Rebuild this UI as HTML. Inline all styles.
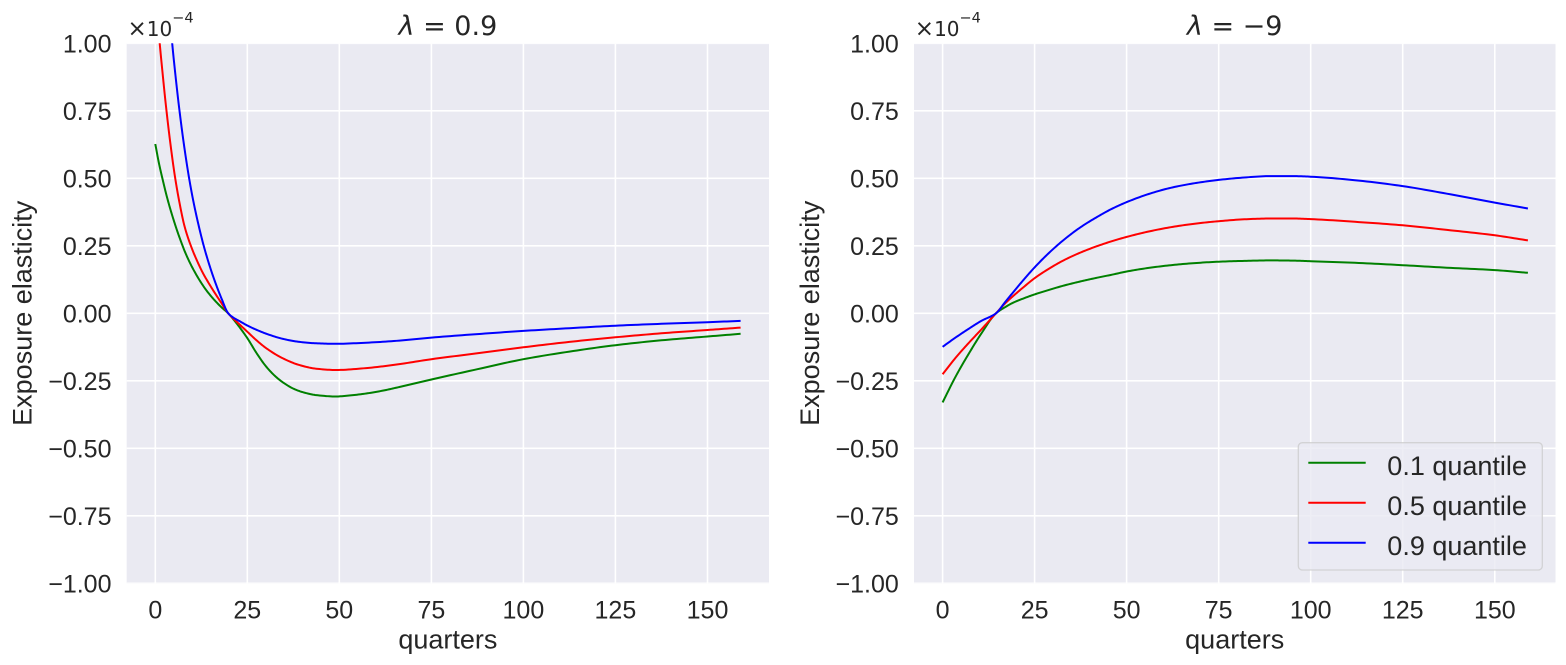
<!DOCTYPE html>
<html><head><meta charset="utf-8"><style>
html,body{margin:0;padding:0;background:#fff;}
svg{display:block;}
.tk{font-family:"Liberation Sans",Arial,sans-serif;font-size:25px;fill:#262626;}
.lb{font-family:"Liberation Sans",Arial,sans-serif;font-size:27px;fill:#262626;}
.tt{font-family:"DejaVu Sans",sans-serif;font-size:27px;fill:#262626;}
.of{font-family:"DejaVu Sans",sans-serif;fill:#262626;}
</style></head><body>
<svg width="1566" height="665" viewBox="0 0 1566 665" xmlns="http://www.w3.org/2000/svg">
<defs>
<clipPath id="cl"><rect x="126.7" y="43.3" width="642.3" height="540"/></clipPath>
<clipPath id="cr"><rect x="914" y="43.3" width="641.5" height="540"/></clipPath>
</defs>
<rect width="1566" height="665" fill="#fff"/>

<!-- LEFT AXES -->
<rect x="126.7" y="43.3" width="642.3" height="540" fill="#EAEAF2"/>
<g stroke="#fff" stroke-width="1.6" fill="none" clip-path="url(#cl)">
<path d="M155.3 43V584M247.3 43V584M339.3 43V584M431.4 43V584M523.4 43V584M615.4 43V584M707.5 43V584"/>
<path d="M126 43.3H770M126 110.8H770M126 178.3H770M126 245.8H770M126 313.3H770M126 380.8H770M126 448.3H770M126 515.8H770M126 583.3H770"/>
</g>
<g clip-path="url(#cl)" fill="none" stroke-width="2" stroke-linejoin="round" stroke-linecap="butt">
<polyline class="s" stroke="#008000" points="155.3,144.0 159.0,163.5 162.7,179.7 166.3,194.5 170.0,208.0 173.7,220.2 177.4,231.5 181.1,241.8 184.7,251.2 188.4,259.6 192.1,267.1 199.5,280.1 206.8,290.9 214.2,299.8 221.6,307.4 228.2,313.3 236.3,323.0 247.3,338.1 256.5,353.0 265.7,366.0 274.9,375.9 284.1,383.2 293.3,388.6 302.5,392.1 316.2,395.1 335.7,396.5 350.4,395.4 366.2,393.5 383.5,390.5 399.4,387.0 431.4,379.5 477.4,369.2 523.4,359.2 569.4,351.6 615.4,345.2 661.4,340.3 707.5,336.5 740.6,333.8"/>
<polyline class="s" stroke="#FF0000" points="155.3,-10.7 159.7,43.3 162.7,74.3 165.6,102.7 170.0,140.5 174.8,175.6 179.2,201.2 184.7,226.9 191.4,247.2 197.6,262.0 203.2,273.6 208.7,283.1 214.9,293.1 221.6,303.3 228.2,313.3 236.3,321.4 247.3,331.7 256.5,340.3 266.5,348.4 283.0,358.4 299.6,365.1 316.2,368.7 335.7,370.0 366.2,368.1 399.4,364.1 431.4,359.2 477.4,353.3 523.4,347.3 569.4,341.9 615.4,337.3 661.4,333.3 707.5,330.0 740.6,327.6"/>
<polyline class="s" stroke="#0000FF" points="155.3,-186.2 162.7,-72.8 168.2,-5.3 172.2,43.3 175.5,75.7 179.6,111.6 184.7,149.9 189.5,180.5 193.9,203.9 199.5,229.1 204.6,249.0 210.5,268.5 216.0,284.4 221.6,298.7 228.2,313.3 232.6,317.1 240.0,321.4 247.3,325.5 256.5,329.8 266.5,333.8 283.0,338.9 299.6,341.9 316.2,343.3 335.7,343.8 366.2,342.7 399.4,340.6 431.4,337.6 477.4,334.1 523.4,330.9 569.4,328.2 615.4,325.7 661.4,323.8 707.5,322.2 740.6,320.9"/>
</g>
<g class="tk" text-anchor="end">
<text x="111.5" y="52.3">1.00</text>
<text x="111.5" y="119.8">0.75</text>
<text x="111.5" y="187.3">0.50</text>
<text x="111.5" y="254.8">0.25</text>
<text x="111.5" y="322.3">0.00</text>
<text x="111.5" y="389.8">−0.25</text>
<text x="111.5" y="457.3">−0.50</text>
<text x="111.5" y="524.8">−0.75</text>
<text x="111.5" y="592.3">−1.00</text>
</g>
<g class="tk" text-anchor="middle">
<text x="155.3" y="618.3">0</text>
<text x="247.3" y="618.3">25</text>
<text x="339.3" y="618.3">50</text>
<text x="431.4" y="618.3">75</text>
<text x="523.4" y="618.3">100</text>
<text x="615.4" y="618.3">125</text>
<text x="707.5" y="618.3">150</text>
</g>
<g class="lb" text-anchor="middle">
<text x="447.9" y="648.3">quarters</text>
<text transform="translate(31.5,313.3) rotate(-90)" x="0" y="0">Exposure elasticity</text>
</g>
<text class="tt" x="447.9" y="35" text-anchor="middle"><tspan font-style="italic">λ</tspan> = 0.9</text>
<text class="of" x="127.5" y="36" font-size="20"><tspan font-size="23">×</tspan>10<tspan font-size="14.5" dy="-13.5">−4</tspan></text>

<!-- RIGHT AXES -->
<rect x="914" y="43.3" width="641.5" height="540" fill="#EAEAF2"/>
<g stroke="#fff" stroke-width="1.6" fill="none" clip-path="url(#cr)">
<path d="M942.6 43V584M1034.6 43V584M1126.6 43V584M1218.7 43V584M1310.7 43V584M1402.7 43V584M1494.8 43V584"/>
<path d="M913 43.3H1557M913 110.8H1557M913 178.3H1557M913 245.8H1557M913 313.3H1557M913 380.8H1557M913 448.3H1557M913 515.8H1557M913 583.3H1557"/>
</g>
<g clip-path="url(#cr)" fill="none" stroke-width="2" stroke-linejoin="round" stroke-linecap="butt">
<polyline class="s" stroke="#008000" points="942.6,402.4 955.5,376.8 968.4,354.3 981.3,333.6 996.0,313.3 1005.2,307.1 1012.5,303.0 1023.6,298.4 1034.6,294.4 1049.3,289.8 1064.1,285.5 1080.6,281.4 1097.2,277.7 1111.9,274.7 1126.7,271.5 1148.7,267.9 1170.8,265.2 1194.7,263.1 1218.7,261.7 1244.4,260.9 1270.2,260.4 1292.3,260.6 1310.7,261.2 1354.9,262.8 1402.7,265.2 1446.9,267.7 1494.8,270.1 1527.9,272.8"/>
<polyline class="s" stroke="#FF0000" points="942.6,374.3 955.5,357.9 968.4,343.3 981.3,329.5 996.0,313.3 1005.2,303.3 1012.5,296.6 1023.6,287.1 1034.6,278.2 1049.3,268.5 1064.1,260.1 1080.6,252.5 1097.2,246.1 1111.9,241.2 1126.7,236.9 1148.7,231.5 1170.8,227.2 1194.7,223.7 1218.7,221.2 1244.4,219.3 1270.2,218.5 1292.3,218.5 1310.7,219.1 1354.9,221.8 1402.7,225.3 1446.9,229.9 1494.8,235.3 1527.9,240.4"/>
<polyline class="s" stroke="#0000FF" points="942.6,346.8 955.5,337.6 968.4,329.0 981.3,320.9 996.0,313.3 1005.2,302.0 1012.5,293.1 1023.6,279.8 1034.6,267.4 1049.3,252.6 1064.1,239.6 1080.6,227.2 1097.2,216.9 1111.9,208.8 1126.7,202.1 1148.7,194.0 1170.8,187.8 1194.7,183.2 1218.7,179.9 1244.4,177.5 1270.2,176.1 1292.3,176.1 1310.7,176.7 1354.9,180.2 1402.7,186.1 1446.9,193.7 1494.8,202.6 1527.9,208.5"/>
</g>
<g class="tk" text-anchor="end">
<text x="898.8" y="52.3">1.00</text>
<text x="898.8" y="119.8">0.75</text>
<text x="898.8" y="187.3">0.50</text>
<text x="898.8" y="254.8">0.25</text>
<text x="898.8" y="322.3">0.00</text>
<text x="898.8" y="389.8">−0.25</text>
<text x="898.8" y="457.3">−0.50</text>
<text x="898.8" y="524.8">−0.75</text>
<text x="898.8" y="592.3">−1.00</text>
</g>
<g class="tk" text-anchor="middle">
<text x="942.6" y="618.3">0</text>
<text x="1034.6" y="618.3">25</text>
<text x="1126.6" y="618.3">50</text>
<text x="1218.7" y="618.3">75</text>
<text x="1310.7" y="618.3">100</text>
<text x="1402.7" y="618.3">125</text>
<text x="1494.8" y="618.3">150</text>
</g>
<g class="lb" text-anchor="middle">
<text x="1234.7" y="648.3">quarters</text>
<text transform="translate(818.8,313.3) rotate(-90)" x="0" y="0">Exposure elasticity</text>
</g>
<text class="tt" x="1234.7" y="35" text-anchor="middle"><tspan font-style="italic">λ</tspan> = −9</text>
<text class="of" x="914.8" y="36" font-size="20"><tspan font-size="23">×</tspan>10<tspan font-size="14.5" dy="-13.5">−4</tspan></text>

<!-- legend -->
<rect x="1298.3" y="442.7" width="244" height="127.3" rx="4" ry="4" fill="#EAEAF2" fill-opacity="0.8" stroke="#cccccc" stroke-opacity="0.8" stroke-width="1.3"/>
<g stroke-width="2">
<line x1="1308.3" y1="462.7" x2="1365.7" y2="462.7" stroke="#008000"/>
<line x1="1308.3" y1="502.7" x2="1365.7" y2="502.7" stroke="#FF0000"/>
<line x1="1308.3" y1="542.7" x2="1365.7" y2="542.7" stroke="#0000FF"/>
</g>
<g class="lb">
<text x="1387.3" y="475">0.1 quantile</text>
<text x="1387.3" y="515">0.5 quantile</text>
<text x="1387.3" y="555">0.9 quantile</text>
</g>
</svg>
<script>
(function(){
  var pls = document.querySelectorAll('polyline.s');
  for (var q = 0; q < pls.length; q++) {
    var pl = pls[q];
    var raw = pl.getAttribute('points').trim().split(/\s+/);
    var xs = [], ys = [];
    for (var i = 0; i < raw.length; i++) { var a = raw[i].split(','); xs.push(+a[0]); ys.push(+a[1]); }
    var n = xs.length;
    if (n < 3) continue;
    var h = [], d = [];
    for (i = 0; i < n - 1; i++) { h.push(xs[i+1] - xs[i]); d.push((ys[i+1] - ys[i]) / h[i]); }
    var m = [d[0]];
    for (i = 1; i < n - 1; i++) {
      if (d[i-1] * d[i] <= 0) { m.push(0); }
      else {
        var w1 = 2*h[i] + h[i-1], w2 = h[i] + 2*h[i-1];
        m.push((w1 + w2) / (w1 / d[i-1] + w2 / d[i]));
      }
    }
    m.push(d[n-2]);
    var out = [];
    for (i = 0; i < n - 1; i++) {
      var steps = 12;
      for (var k = 0; k < steps; k++) {
        var t = k / steps, t2 = t*t, t3 = t2*t;
        var h00 = 2*t3 - 3*t2 + 1, h10 = t3 - 2*t2 + t, h01 = -2*t3 + 3*t2, h11 = t3 - t2;
        var x = xs[i] + t*h[i];
        var y = h00*ys[i] + h10*h[i]*m[i] + h01*ys[i+1] + h11*h[i]*m[i+1];
        out.push(x.toFixed(2) + ',' + y.toFixed(2));
      }
    }
    out.push(xs[n-1].toFixed(2) + ',' + ys[n-1].toFixed(2));
    pl.setAttribute('points', out.join(' '));
  }
})();
</script>
</body></html>
